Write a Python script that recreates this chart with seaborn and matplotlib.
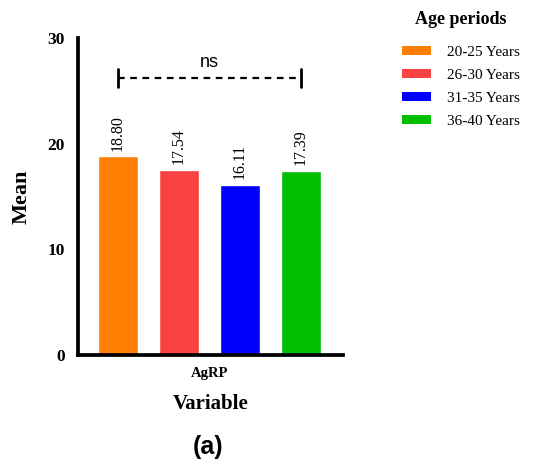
import matplotlib
matplotlib.use("Agg")
import matplotlib.pyplot as plt
import seaborn as sns
import pandas as pd
from matplotlib.patches import Patch

periods = ["20-25 Years", "26-30 Years", "31-35 Years", "36-40 Years"]
means = [18.80, 17.54, 16.11, 17.39]
colors = ["#FF8000", "#FB4242", "#0000FF", "#00BF00"]
variable = "AgRP"
yticks = [0, 10, 20, 30]

sns.set_style("white")
plt.rcParams['font.family'] = ['Liberation Serif', 'DejaVu Serif']
plt.rcParams['text.color'] = 'black'
plt.rcParams['axes.labelcolor'] = 'black'
plt.rcParams['xtick.color'] = 'black'
plt.rcParams['ytick.color'] = 'black'

df = pd.DataFrame({"period": periods, "mean": means})

fig = plt.figure(figsize=(5.37, 4.68), dpi=100)
ax = fig.add_axes([0.1453, 0.2415, 0.4934, 0.6773])

sns.barplot(data=df, x="period", y="mean", hue="period", palette=colors,
            width=0.656, dodge=False, legend=False, ax=ax, saturation=1)

ax.set_ylim(0, 30)
ax.set_xlim(-0.656, 3.69)
ax.set_yticks(yticks)
ax.set_yticklabels([str(t) for t in yticks], fontweight="bold", fontsize=12.5)
ax.set_xticks([1.5])
ax.set_xticklabels([variable], fontweight="bold", fontsize=10.5)
for s in ["top", "right"]:
    ax.spines[s].set_visible(False)
for s in ["left", "bottom"]:
    ax.spines[s].set_linewidth(2.7)
    ax.spines[s].set_color("black")
ax.tick_params(axis="y", length=8, width=2.4, color="black", direction="out", pad=1.5)
ax.tick_params(axis="x", length=5.5, width=2.4, color="black", direction="out", pad=3)
ax.set_ylabel("Mean", fontweight="bold", fontsize=16)
ax.yaxis.set_label_coords(-0.176, 0.5)
ax.set_xlabel("Variable", fontweight="bold", fontsize=15)
ax.xaxis.set_label_coords(0.5, -0.122)

for i, m in enumerate(means):
    ax.text(i, m + 0.55, f"{m:.2f}", rotation=90, ha="center", va="bottom",
            fontsize=11.5)

# significance bracket
yb = 26.2
ax.plot([0, 3], [yb, yb], ls=(0, (3, 2.5)), color="black", lw=1.6)
ax.plot([0, 0], [yb - 0.85, yb + 0.85], color="black", lw=2)
ax.plot([3, 3], [yb - 0.85, yb + 0.85], color="black", lw=2)
ax.text(1.5, 26.85, "ns", ha="center", va="bottom", fontsize=13,
        family=['Liberation Sans', 'DejaVu Sans'])

handles = [Patch(facecolor=c, edgecolor="none") for c in colors]
leg = fig.legend(handles, periods, loc="upper left", bbox_to_anchor=(0.728, 1.0),
                 frameon=False, title="Age periods", fontsize=11,
                 handlelength=1.95, handleheight=0.55, handletextpad=1.0,
                 labelspacing=0.66, borderpad=0.2)
leg.get_title().set_fontweight("bold")
leg.get_title().set_fontsize(13)
leg._legend_box.sep = 13

fig.text(0.388, 0.045, "(a)", ha="center", va="center", fontsize=18,
         fontweight="bold", family=['Liberation Sans', 'DejaVu Sans'])

fig.savefig("out.png", dpi=100)
